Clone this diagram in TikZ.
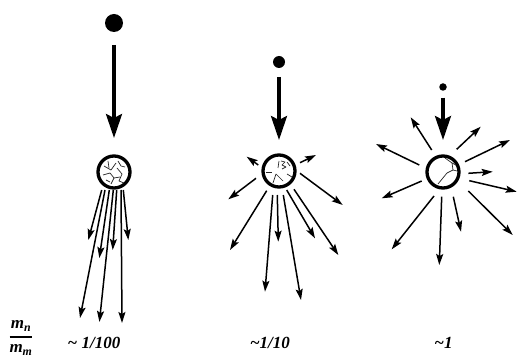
\documentclass[tikz,border=0pt]{standalone}
\usepackage{amsmath}
\usepackage{fontspec}
\setmainfont{Liberation Serif}
\usetikzlibrary{arrows.meta}

\begin{document}
\begin{tikzpicture}[x=1pt, y=-1pt,
  ball/.style={circle, fill=black, inner sep=0pt, outer sep=0pt},
  target/.style={circle, draw, line width=3.3pt, fill=white,
                 minimum size=32pt, inner sep=0pt, outer sep=0pt},
  impact/.style={-{Stealth[length=24pt, width=16pt, inset=4pt]}, line width=3.3pt},
  frag/.style={-{Stealth[length=11pt, width=7pt, inset=2pt]}, line width=1.5pt},
  crack/.style={line width=0.7pt, black!85, line join=round},
  ratio/.style={font=\fontsize{17}{19}\selectfont\bfseries\itshape, anchor=base}
]
  \useasboundingbox (0,0) rectangle (517,358);

  % targets and projectiles
  \node[target] (t1) at (114,172) {};
  \node[target] (t2) at (279,171) {};
  \node[target] (t3) at (443,172) {};

  \node[ball, minimum size=18pt] (b1) at (114,23) {};
  \node[ball, minimum size=12pt] (b2) at (279,62) {};
  \node[ball, minimum size=7.5pt] (b3) at (443,87) {};

  \draw[impact, shorten <=13pt, shorten >=18pt] (b1) -- (t1);
  \draw[impact, shorten <=9pt, shorten >=15pt] (b2) -- (t2);
  \draw[impact, shorten <=7pt, shorten >=16pt] (b3) -- (t3);

  % cracks inside the targets
  \begin{scope}[shift={(t1.center)}]
    \draw[crack] (-10,-6) -- (-3,-2) -- (2,-9);
    \draw[crack] (-11,3) -- (-4,1) -- (0,6) -- (-3,12);
    \draw[crack] (3,-4) -- (8,2) -- (5,9) -- (10,11);
    \draw[crack] (0,6) -- (6,5);
    \draw[crack] (-6,-11) -- (-5,-4);
    \draw[crack] (4,-11) -- (7,-6) -- (11,-5);
    \draw[crack] (-8,8) -- (-4,10);
  \end{scope}
  \begin{scope}[shift={(t2.center)}]
    \draw[crack] (-13,1) -- (-7,1);
    \draw[crack] (-3,3) -- (-6,12);
    \draw[crack] (-3,3) -- (4,10);
    \draw[crack] (8,3) -- (13,6);
    \draw[crack] (0,-10) -- (-1,-3);
    \draw[crack] (2,-10) -- (6,-9) -- (3,-6) -- (7,-4) -- (3,-2);
    \draw[crack] (8,-9) -- (11,-5);
  \end{scope}
  \begin{scope}[shift={(t3.center)}]
    \draw[crack] (2,-14) -- (9,-9) -- (13,-7);
    \draw[crack] (9,-9) -- (10,-2) -- (4,1) -- (-5,12);
    \draw[crack] (10,-2) -- (14,-1);
  \end{scope}

  % fragments, light projectile
  \begin{scope}[shift={(t1.center)}]
    \draw[frag] (-12.3,18) -- (-25.7,68);
    \draw[frag] (-9,18) -- (-34,146);
    \draw[frag] (-4.7,18) -- (-14.7,86);
    \draw[frag] (-0.7,18) -- (-14.6,150);
    \draw[frag] (2.7,18) -- (-1.3,78);
    \draw[frag] (7,18) -- (8,151);
    \draw[frag] (9.3,18) -- (14.3,68);
  \end{scope}

  % fragments, medium projectile
  \begin{scope}[shift={(t2.center)}]
    \draw[frag] (-20.7,-6) -- (-32.3,-14.3);
    \draw[frag] (21,-8.3) -- (37,-16);
    \draw[frag] (-23,7.3) -- (-50.7,28.3);
    \draw[frag] (21,2.3) -- (63.7,34);
    \draw[frag] (-12.3,19.7) -- (-49,79);
    \draw[frag] (-6.3,24) -- (-14,120.7);
    \draw[frag] (-1.7,24) -- (-0.7,70.7);
    \draw[frag] (4.3,24) -- (22,129);
    \draw[frag] (7.7,19) -- (36,67.3);
    \draw[frag] (15,18.3) -- (59.3,84);
  \end{scope}

  % fragments, heavy projectile
  \begin{scope}[shift={(t3.center)}]
    \draw[frag] (-11.3,-22) -- (-32.3,-54.7);
    \draw[frag] (13.7,-22.7) -- (37.7,-45.3);
    \draw[frag] (-23.7,-7) -- (-67,-28);
    \draw[frag] (22,-10.3) -- (67,-32);
    \draw[frag] (25.3,1.3) -- (49.7,-0.3);
    \draw[frag] (26.3,8.7) -- (73.7,19.7);
    \draw[frag] (-21.3,9) -- (-61.3,26.3);
    \draw[frag] (-9,24) -- (-51.3,77.3);
    \draw[frag] (-1.3,24.7) -- (-3.7,93);
    \draw[frag] (10.3,24.7) -- (18,59.7);
    \draw[frag] (25.3,19) -- (69.7,63);
  \end{scope}

  % mass ratios
  \node[font=\fontsize{17}{19}\selectfont\bfseries\itshape] (mass) at (21,338)
    {$\genfrac{}{}{1.6pt}{0}{\text{m}_{\text{n}}}{\text{m}_{\text{m}}}$};
  \node[ratio] (r100) at (94,348) {\textasciitilde\ 1/100};
  \node[ratio] (r10) at (270,348) {\textasciitilde1/10};
  \node[ratio] (r1) at (443.5,348) {\textasciitilde1};
\end{tikzpicture}
\end{document}
